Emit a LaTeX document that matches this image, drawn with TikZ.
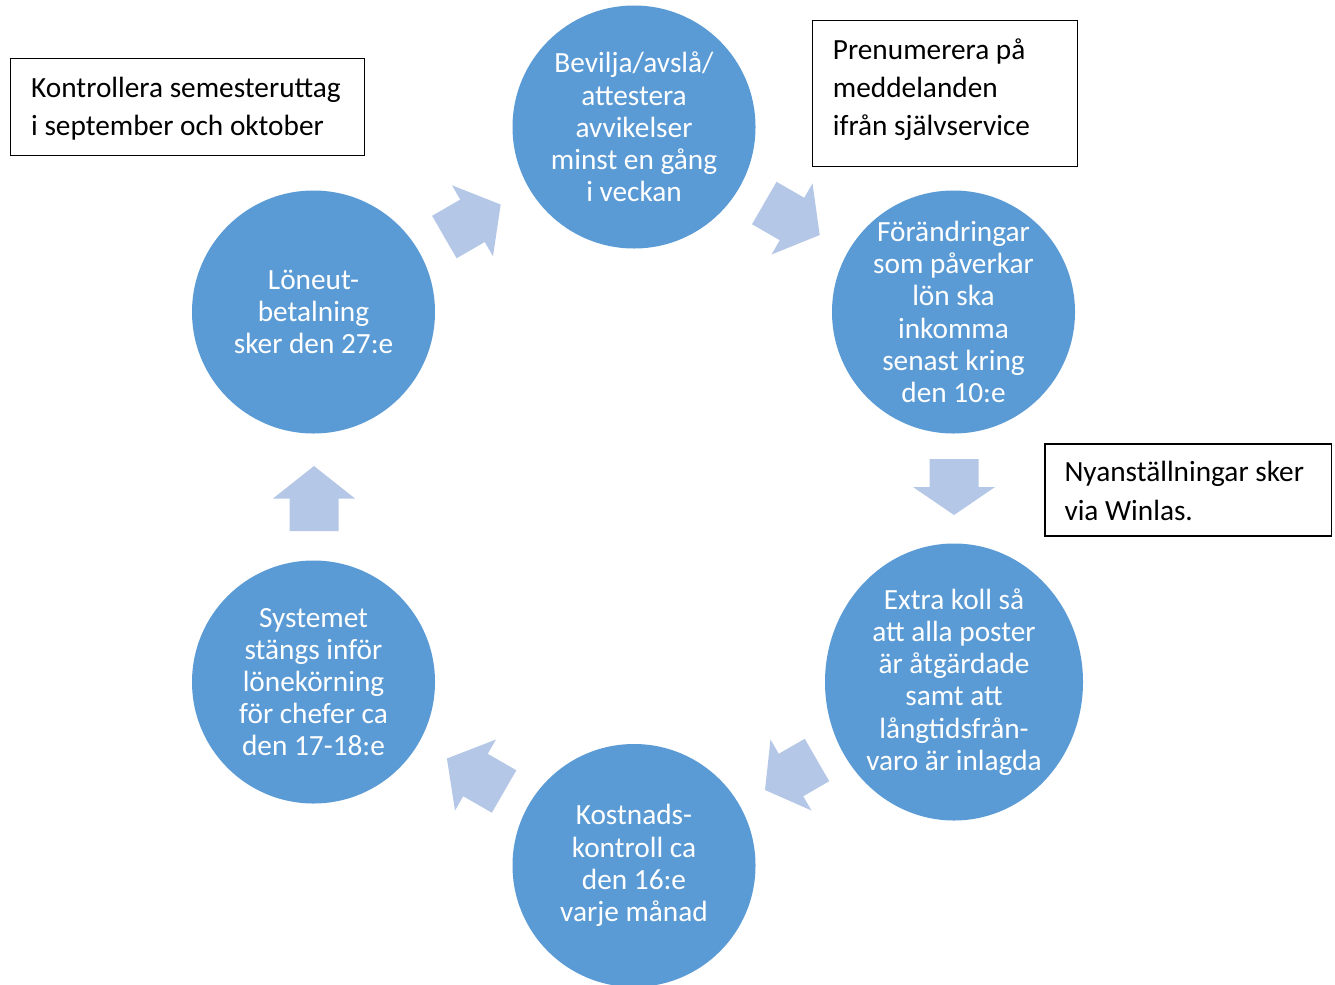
\documentclass[tikz,border=0pt]{standalone}
\usepackage{fontspec}
\setmainfont{Carlito}
\usetikzlibrary{shapes.geometric}
\definecolor{stageblue}{HTML}{5B9BD5}
\definecolor{arrowblue}{HTML}{B4C7E7}
\begin{document}
\begin{tikzpicture}[x=1bp,y=1bp,
  stage/.style={circle,fill=stageblue,minimum size=243bp,inner sep=0pt,text=white,align=center,font=\fontsize{29.3bp}{32.2bp}\selectfont},
  notebox/.style={draw=black,line width=1.3bp,fill=white,anchor=north west,inner sep=0pt},
  notetext/.style={anchor=base west,inner sep=0pt,font=\fontsize{29.3bp}{38.3bp}\selectfont},
  pics/blockarrow/.style={code={\fill[arrowblue] (-#1/2,-24.5) -- (0,-24.5) -- (0,-41) -- (#1/2,0) -- (0,41) -- (0,24.5) -- (-#1/2,24.5) -- cycle;}}]
\useasboundingbox (0,0) rectangle (1335,-984);
\clip (0,0) rectangle (1335,-984);
\fill[white] (0,0) rectangle (1335,-984);

% stages
\node[stage] (c1) at (634,-127) {Bevilja/avslå/\\attestera\\avvikelser\\minst en gång\\i veckan};
\node[stage] (c2) at (953.5,-312) {Förändringar\\som påverkar\\lön ska\\inkomma\\senast kring\\den 10:e};
\node[stage,ellipse,minimum width=258bp,minimum height=277bp] (c3) at (954,-682) {Extra koll så\\att alla poster\\är åtgärdade\\samt att\\långtidsfrån-\\varo är inlagda};
\node[stage] (c4) at (634,-865.5) {Kostnads-\\kontroll ca\\den 16:e\\varje månad};
\node[stage] (c5) at (313.5,-682) {Systemet\\stängs inför\\lönekörning\\för chefer ca\\den 17-18:e};
\node[stage] (c6) at (313.5,-312) {Löneut-\\betalning\\sker den 27:e};

% block arrows
\pic[rotate=30] at (472.5,-220.8) {blockarrow=65};
\pic[rotate=-30] at (792,-219) {blockarrow=64};
\pic[rotate=-90] at (954,-487) {blockarrow=56};
\pic[rotate=210] at (791,-775) {blockarrow=60};
\pic[rotate=150] at (475.5,-775) {blockarrow=66};
\pic[rotate=90] at (314,-498.5) {blockarrow=65};

% notes
\node[notebox,minimum width=354bp,minimum height=97bp] (b1) at (10,-58) {};
\node[notetext] (b1a) at (31,-97) {Kontrollera semesteruttag};
\node[notetext] (b1b) at (31,-135) {i september och oktober};

\node[notebox,minimum width=265.5bp,minimum height=146bp] (b2) at (811.5,-20) {};
\node[notetext] (b2a) at (832.7,-59) {Prenumerera på};
\node[notetext] (b2b) at (832.7,-97.3) {meddelanden};
\node[notetext] (b2c) at (832.7,-135.7) {ifrån självservice};

\node[notebox,minimum width=286.7bp,minimum height=92bp] (b3) at (1044.3,-443.3) {};
\node[notetext] (b3a) at (1064.3,-481.7) {Nyanställningar sker};
\node[notetext] (b3b) at (1064.3,-520) {via Winlas.};
\end{tikzpicture}
\end{document}
